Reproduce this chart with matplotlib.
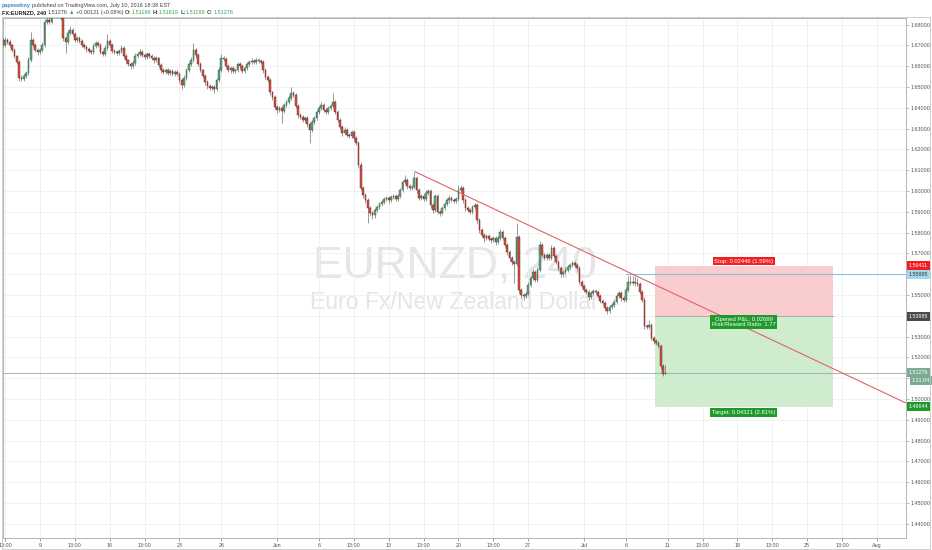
import matplotlib
matplotlib.use("Agg")
import matplotlib.pyplot as plt
from matplotlib.patches import Rectangle
import numpy as np

plt.rcParams['font.family'] = ['Liberation Sans', 'DejaVu Sans']

# 4h candles, bar 0 = first bar of Mon 9 May 2016 (30 bars per trading week)
first_bar = -16
first_open = 1.6727
closes = [
    1.6703, 1.6727, 1.6717, 1.6703, 1.6678, 1.6649, 1.6621, 1.6544, 1.6539, 1.6553,
    1.6568, 1.6630, 1.6727, 1.6703, 1.6678, 1.6669, 1.6678, 1.6703, 1.6813, 1.6823,
    1.6813, 1.6847, 1.6871, 1.6880, 1.6861, 1.6832, 1.6736, 1.6717, 1.6760, 1.6775,
    1.6755, 1.6727, 1.6736, 1.6722, 1.6703, 1.6693, 1.6683, 1.6674, 1.6669, 1.6698,
    1.6712, 1.6703, 1.6669, 1.6659, 1.6688, 1.6722, 1.6703, 1.6674, 1.6669, 1.6664,
    1.6674, 1.6688, 1.6649, 1.6630, 1.6611, 1.6601, 1.6616, 1.6649, 1.6659, 1.6669,
    1.6654, 1.6645, 1.6659, 1.6649, 1.6640, 1.6630, 1.6640, 1.6606, 1.6582, 1.6573,
    1.6582, 1.6568, 1.6577, 1.6563, 1.6573, 1.6563, 1.6534, 1.6510, 1.6544, 1.6582,
    1.6611, 1.6630, 1.6678, 1.6654, 1.6611, 1.6582, 1.6553, 1.6524, 1.6505, 1.6496,
    1.6500, 1.6491, 1.6534, 1.6582, 1.6640, 1.6636, 1.6601, 1.6582, 1.6592, 1.6577,
    1.6582, 1.6611, 1.6601, 1.6577, 1.6592, 1.6611, 1.6621, 1.6626, 1.6621, 1.6630,
    1.6626, 1.6621, 1.6582, 1.6548, 1.6534, 1.6476, 1.6452, 1.6404, 1.6390, 1.6399,
    1.6385, 1.6414, 1.6428, 1.6448, 1.6472, 1.6462, 1.6409, 1.6366, 1.6356, 1.6342,
    1.6351, 1.6322, 1.6294, 1.6332, 1.6351, 1.6380, 1.6399, 1.6414, 1.6390, 1.6380,
    1.6399, 1.6409, 1.6428, 1.6380, 1.6342, 1.6308, 1.6279, 1.6294, 1.6270, 1.6265,
    1.6284, 1.6255, 1.6231, 1.6125, 1.6015, 1.5981, 1.5957, 1.5919, 1.5895, 1.5885,
    1.5909, 1.5924, 1.5938, 1.5948, 1.5962, 1.5967, 1.5957, 1.5972, 1.5976, 1.5962,
    1.5976, 1.6005, 1.6044, 1.6053, 1.6024, 1.6015, 1.6020, 1.6063, 1.6005, 1.5967,
    1.5976, 1.5962, 1.5991, 1.6000, 1.5933, 1.5909, 1.5976, 1.5900, 1.5895, 1.5919,
    1.5938, 1.5957, 1.5967, 1.5957, 1.5952, 1.5962, 1.6005, 1.6015, 1.5957, 1.5919,
    1.5909, 1.5900, 1.5924, 1.5933, 1.5861, 1.5813, 1.5789, 1.5775, 1.5784, 1.5770,
    1.5765, 1.5775, 1.5755, 1.5775, 1.5803, 1.5775, 1.5741, 1.5707, 1.5678, 1.5659,
    1.5649, 1.5779, 1.5525, 1.5501, 1.5496, 1.5506, 1.5549, 1.5582, 1.5611, 1.5573,
    1.5621, 1.5741, 1.5693, 1.5678, 1.5693, 1.5678, 1.5726, 1.5688, 1.5659, 1.5630,
    1.5601, 1.5611, 1.5621, 1.5635, 1.5645, 1.5654, 1.5645, 1.5630, 1.5563, 1.5544,
    1.5525, 1.5515, 1.5491, 1.5510, 1.5520, 1.5515, 1.5496, 1.5472, 1.5462, 1.5438,
    1.5424, 1.5443, 1.5452, 1.5467, 1.5496, 1.5510, 1.5486, 1.5477, 1.5525, 1.5563,
    1.5558, 1.5563, 1.5558, 1.5554, 1.5515, 1.5477, 1.5351, 1.5347, 1.5356, 1.5294,
    1.5279, 1.5270, 1.5255, 1.5159, 1.51189, 1.51276,
]
# wick lengths in pips above / below the body
upper_pips = [
    8, 12, 10, 14, 6, 9, 7, 10, 12, 8,
    10, 14, 38, 8, 10, 12, 9, 14, 12, 18,
    12, 10, 14, 9, 11, 8, 12, 9, 15, 17,
    10, 8, 12, 9, 7, 11, 8, 10, 9, 13,
    11, 8, 10, 7, 12, 33, 9, 8, 10, 7,
    9, 14, 8, 10, 7, 9, 12, 15, 10, 14,
    8, 11, 9, 12, 8, 10, 9, 7, 11, 8,
    10, 9, 12, 8, 10, 7, 9, 11, 13, 12,
    10, 14, 34, 9, 8, 10, 7, 9, 8, 10,
    8, 9, 11, 14, 18, 10, 9, 8, 10, 9,
    8, 12, 9, 8, 10, 11, 9, 12, 10, 9,
    10, 11, 8, 9, 10, 8, 7, 9, 8, 10,
    9, 11, 10, 12, 29, 10, 8, 9, 10, 8,
    9, 8, 10, 12, 10, 11, 9, 12, 10, 9,
    10, 9, 43, 8, 9, 10, 8, 12, 9, 10,
    9, 8, 10, 12, 14, 10, 8, 9, 10, 8,
    10, 9, 11, 8, 12, 10, 9, 11, 10, 9,
    10, 12, 11, 24, 10, 9, 11, 29, 8, 10,
    9, 11, 14, 10, 8, 9, 12, 10, 9, 11,
    10, 9, 12, 10, 9, 11, 24, 12, 9, 8,
    10, 9, 11, 12, 8, 10, 9, 8, 12, 10,
    9, 11, 8, 10, 14, 9, 10, 8, 9, 10,
    12, 67, 10, 8, 9, 11, 14, 12, 16, 10,
    12, 18, 10, 9, 11, 10, 14, 9, 10, 8,
    9, 10, 12, 11, 10, 12, 9, 10, 8, 9,
    10, 8, 9, 11, 10, 9, 8, 10, 9, 8,
    9, 11, 10, 12, 14, 10, 9, 8, 16, 30,
    32, 28, 30, 26, 10, 9, 12, 10, 24, 9,
    10, 8, 9, 11, 12, 34,
]
lower_pips = [
    10, 8, 12, 9, 11, 8, 10, 14, 12, 9,
    8, 10, 9, 12, 10, 13, 9, 11, 8, 10,
    9, 11, 8, 10, 12, 9, 14, 53, 10, 8,
    10, 9, 12, 11, 9, 10, 12, 9, 11, 8,
    9, 10, 12, 9, 8, 10, 11, 9, 12, 10,
    9, 8, 11, 12, 10, 14, 9, 8, 10, 9,
    10, 12, 9, 11, 10, 12, 9, 11, 13, 10,
    9, 12, 10, 11, 9, 10, 14, 18, 9, 10,
    8, 9, 10, 12, 9, 11, 10, 12, 14, 11,
    12, 20, 9, 8, 10, 12, 11, 9, 12, 10,
    9, 10, 12, 11, 9, 8, 10, 9, 11, 9,
    10, 9, 12, 11, 10, 14, 12, 11, 13, 10,
    58, 10, 9, 8, 10, 12, 11, 13, 10, 12,
    11, 14, 62, 10, 9, 8, 10, 9, 12, 10,
    9, 10, 8, 11, 12, 10, 13, 9, 11, 12,
    10, 12, 11, 14, 12, 13, 15, 72, 14, 18,
    12, 10, 9, 11, 10, 9, 12, 10, 9, 11,
    10, 9, 8, 10, 12, 11, 9, 10, 12, 11,
    10, 12, 9, 10, 14, 12, 10, 11, 13, 10,
    9, 10, 12, 9, 11, 10, 9, 10, 12, 13,
    11, 12, 10, 9, 12, 14, 12, 18, 10, 12,
    14, 11, 12, 10, 9, 12, 11, 13, 15, 14,
    91, 10, 14, 16, 18, 12, 10, 11, 9, 12,
    10, 9, 12, 11, 10, 9, 11, 12, 10, 13,
    14, 10, 9, 11, 10, 9, 10, 12, 11, 12,
    10, 12, 14, 11, 10, 12, 11, 10, 12, 14,
    16, 10, 9, 11, 10, 9, 12, 11, 10, 9,
    11, 10, 12, 9, 10, 11, 14, 12, 10, 11,
    12, 10, 11, 12, 10, 0,
]

# time axis labels (bar index -> label)
tick_bars = [-15, 0, 15, 30, 45, 60, 78, 102, 120, 135, 150, 165, 180, 195,
             210, 234, 252, 270, 285, 300, 315, 330, 345, 360]
tick_labels = ["13:00", "9", "13:00", "16", "13:00", "23", "26", "Jun", "6", "13:00",
               "13", "13:00", "20", "13:00", "27", "Jul", "6", "11", "13:00", "18",
               "13:00", "25", "13:00", "Aug"]
price_ticks = [1.44, 1.45, 1.46, 1.47, 1.48, 1.49, 1.50, 1.51, 1.52, 1.53, 1.54, 1.55,
               1.56, 1.57, 1.58, 1.59, 1.60, 1.61, 1.62, 1.63, 1.64, 1.65, 1.66, 1.67, 1.68]
hidden_ticks = [1.51, 1.54, 1.56]  # covered by the price tags

# drawings
trend_bars = [161.3, 372.5]
trend_prices = [1.60933, 1.49812]
level_bar = 252
level_price = 1.55995
box_bars = [264.5, 341]
stop_price = 1.56411
entry_price = 1.53985
target_price = 1.49644
last_price = 1.51276

W, H = 932, 550
fig = plt.figure(figsize=(W / 100, H / 100), dpi=100)
ax = fig.add_axes([3 / W, (H - 538) / H, 903 / W, 520 / H])

closes = np.array(closes)
opens = np.concatenate([[first_open], closes[:-1]])
bars = np.arange(first_bar, first_bar + len(closes))
highs = np.maximum(opens, closes) + np.array(upper_pips) * 1e-4
lows = np.minimum(opens, closes) - np.array(lower_pips) * 1e-4
up = closes >= opens
dn = ~up

ax.vlines(bars, lows, highs, color='#737375', lw=0.5, zorder=3)
ax.bar(bars[up], np.maximum(closes - opens, 0.00015)[up], bottom=opens[up], width=0.72,
       color='#6ba583', edgecolor='#225437', lw=0.3, zorder=4)
ax.bar(bars[dn], (opens - closes)[dn], bottom=closes[dn], width=0.72,
       color='#d75442', edgecolor='#5b1a13', lw=0.3, zorder=4)

# watermark
ax.text(0.5, 0.523, "EURNZD, 240", transform=ax.transAxes, ha='center', va='center',
        fontsize=32, color='#e4e5e7', zorder=0)
ax.text(0.5, 0.453, "Euro Fx/New Zealand Dollar", transform=ax.transAxes, ha='center',
        va='center', fontsize=16.6, color='#e4e5e7', zorder=0)

# long position tool
bx0, bx1 = box_bars
ax.add_patch(Rectangle((bx0, entry_price), bx1 - bx0, stop_price - entry_price,
                       fc='#f9cdcd', ec='none', zorder=1.5))
ax.add_patch(Rectangle((bx0, target_price), bx1 - bx0, entry_price - target_price,
                       fc='#d0eccf', ec='none', zorder=1.5))
ax.plot([bx0, bx1], [entry_price, entry_price], color='#a0a0a0', lw=0.6, zorder=1.6)
cx = (bx0 + bx1) / 2
lab = dict(color='white', fontsize=4.2, ha='center', zorder=6)
ax.annotate("Stop: 0.02446 (1.59%)", (cx, stop_price), xytext=(0, 1.5),
            textcoords='offset points', va='bottom',
            bbox=dict(boxstyle='square,pad=0.3', fc='#f01e1e', ec='none'), **lab)
ax.annotate("Opened P&L: 0.02689\nRisk/Reward Ratio: 1.77", (cx, entry_price),
            xytext=(0, -0.5), textcoords='offset points', va='top', linespacing=1.0,
            bbox=dict(boxstyle='square,pad=0.3', fc='#1d9a2a', ec='none'), **lab)
ax.annotate("Target: 0.04321 (2.81%)", (cx, target_price), xytext=(0, -2.5),
            textcoords='offset points', va='top',
            bbox=dict(boxstyle='square,pad=0.3', fc='#1d9a2a', ec='none'), **lab)

# trend line, level line, last price line
ax.plot(trend_bars, trend_prices, color='#e0626a', lw=0.8, zorder=5)
ax.plot([level_bar, 372.5], [level_price, level_price], color='#84c6e0', lw=0.8, zorder=2)
ax.axhline(last_price, color='#9aa9a2', lw=0.6, zorder=2)

# axes styling
ax.set_xlim(-15.9, 372.5)
ax.set_ylim(1.43322, 1.68322)
ax.set_xticks(tick_bars)
ax.set_xticklabels(tick_labels)
ax.set_yticks(price_ticks)
ax.set_yticklabels(["" if any(abs(v - h) < 1e-9 for h in hidden_ticks) else f"{v:.5f}"
                    for v in price_ticks])
ax.yaxis.tick_right()
ax.tick_params(axis='both', labelsize=3.9, colors='#555555', length=2, width=0.4, pad=1.5)
ax.tick_params(axis='y', colors='#888888', labelcolor='#555555')
ax.grid(True, color='#efefef', lw=0.6, zorder=0)
ax.set_axisbelow(True)
for s in ax.spines.values():
    s.set_color('#b4b4b4')
    s.set_linewidth(0.7)

# price tags on the right scale
tags = [(stop_price, "1.56411", '#f01e1e', 'white'),
        (level_price, "1.55995", '#a3d9ec', '#333333'),
        (entry_price, "1.53985", '#4a4a4a', 'white'),
        (last_price, "1.51276", '#7caa93', 'white'),
        (target_price, "1.49644", '#1d9a2a', 'white')]
for p, s, fc, tc in tags:
    ax.annotate(s, (1.0, p), xycoords=('axes fraction', 'data'), xytext=(2.2, 0),
                textcoords='offset points', ha='left', va='center', fontsize=3.9,
                color=tc, annotation_clip=False, zorder=7,
                bbox=dict(boxstyle='square,pad=0.35', fc=fc, ec='none'))
ax.annotate("1:21:04", (1.0, last_price), xycoords=('axes fraction', 'data'),
            xytext=(4.0, -5.8), textcoords='offset points', ha='left', va='center',
            fontsize=3.9, color='white', annotation_clip=False, zorder=7,
            bbox=dict(boxstyle='square,pad=0.35', fc='#7caa93', ec='none'))

# outer frame
fig.add_artist(Rectangle((2 / W, 1 / H), 928 / W, 532 / H, transform=fig.transFigure,
                         fc='none', ec='#c8c8c8', lw=0.6))

# header lines
renderer = fig.canvas.get_renderer()


def text_run(x_px, y_px, pieces, size=4.0):
    x = x_px
    for s, c, w, gap in pieces:
        t = fig.text(x / W, 1 - y_px / H, s, color=c, fontsize=size, fontweight=w,
                     ha='left', va='center')
        x += t.get_window_extent(renderer=renderer).width + gap


text_run(2, 5, [("papeeeboy", '#2f8fd0', 'bold', 1.2),
                ("published on TradingView.com, July 10, 2016 18:38 EST", '#444444', 'normal', 0)])
green = '#3aa34f'
text_run(2, 12.5, [("FX:EURNZD, 240", '#222222', 'bold', 1.6),
                   ("1.51276", '#444444', 'normal', 1.4),
                   ("\u25b2", green, 'normal', 1.4),
                   ("+0.00121 (+0.08%)", '#444444', 'normal', 1.6),
                   ("O:", '#444444', 'bold', 0.3),
                   ("1.51189", green, 'normal', 1.6),
                   ("H:", '#444444', 'bold', 0.3),
                   ("1.51619", green, 'normal', 1.6),
                   ("L:", '#444444', 'bold', 0.3),
                   ("1.51189", green, 'normal', 1.6),
                   ("C:", '#444444', 'bold', 0.3),
                   ("1.51276", green, 'normal', 0)])

fig.savefig("out.png", dpi=100, facecolor='white')
